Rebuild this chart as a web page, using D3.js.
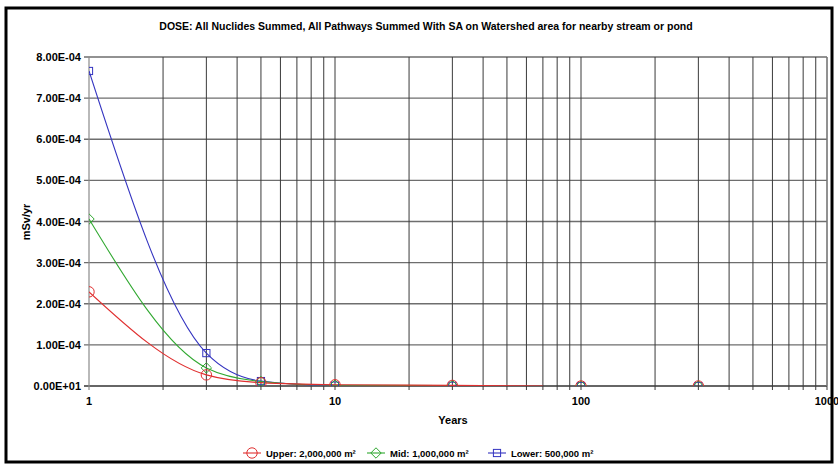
<!DOCTYPE html>
<html>
<head>
<meta charset="utf-8">
<script src="https://cdn.jsdelivr.net/npm/d3@7"></script>
<style>
  body { margin: 0; background: #fff; }
  svg { display: block; font-family: "Liberation Sans", Arial, sans-serif; }
</style>
</head>
<body>
<svg width="838" height="467"></svg>
<script>
// data
const years = [1, 3, 5, 10, 30, 100, 300];
const upper = [2.29e-4, 2.7e-5, 8e-6, 3e-6, 1.5e-6, 0, 0];
const mid = [4.06e-4, 4.4e-5, 1.1e-5, 2e-6, 1e-6, 0, 0];
const lower = [7.66e-4, 8.0e-5, 1.2e-5, 1e-6, 5e-7, 0, 0];
const lineEnd = [70, 30, 30];   // last year each line is drawn to

const seriesNames = ["Upper:  2,000,000 m\u00B2", "Mid:  1,000,000 m\u00B2", "Lower:  500,000 m\u00B2"];
const seriesColors = ["#e03030", "#30a830", "#3434c0"];
const seriesMarks = ["circle", "diamond", "square"];
const yTicks = [0, 1e-4, 2e-4, 3e-4, 4e-4, 5e-4, 6e-4, 7e-4, 8e-4];
const xLabels = [1, 10, 100, 1000];

const title = "DOSE: All Nuclides Summed, All Pathways Summed With SA on Watershed area for nearby stream or pond";

let svg = d3.select("svg");
let pLeft = 89, pRight = 827, pTop = 57, pBottom = 386;

let x = d3.scaleLog().domain([1, 1000]).range([pLeft, pRight]);
let y = d3.scaleLinear().domain([0, 8e-4]).range([pBottom, pTop]);

// outer frame
svg.append("rect")
    .attr("x", 6).attr("y", 8)
    .attr("width", 826).attr("height", 454)
    .attr("fill", "#fff")
    .attr("stroke", "#000")
    .attr("stroke-width", 3);

svg.append("text")
    .attr("x", 426).attr("y", 30)
    .attr("text-anchor", "middle")
    .attr("font-size", 10.5).attr("font-weight", "bold")
    .text(title);

svg.append("defs").append("clipPath").attr("id", "plot")
    .append("rect")
    .attr("x", pLeft).attr("y", pTop)
    .attr("width", pRight - pLeft).attr("height", pBottom - pTop);

// horizontal grid
svg.append("g").selectAll("line")
    .data(yTicks)
    .enter().append("line")
    .attr("x1", pLeft - 5).attr("x2", pRight)
    .attr("y1", d => y(d)).attr("y2", d => y(d))
    .attr("stroke", d => d === 0 ? "#333" : "#6e6e6e")
    .attr("stroke-width", 1.3);

// vertical grid (every log step)
let xGrid = x.ticks().filter(d => d > 1);
svg.append("g").selectAll("line")
    .data(xGrid)
    .enter().append("line")
    .attr("x1", d => x(d)).attr("x2", d => x(d))
    .attr("y1", pTop).attr("y2", pBottom + 4)
    .attr("stroke", "#3a3a3a")
    .attr("stroke-width", 1);

// left and right plot edges
svg.append("line")
    .attr("x1", pLeft).attr("x2", pLeft)
    .attr("y1", pTop).attr("y2", pBottom + 4)
    .attr("stroke", "#8a8a8a").attr("stroke-width", 1.2);
svg.append("line")
    .attr("x1", pRight).attr("x2", pRight)
    .attr("y1", pTop).attr("y2", pBottom)
    .attr("stroke", "#8a8a8a").attr("stroke-width", 1.2);

svg.append("g").selectAll("text")
    .data(yTicks)
    .enter().append("text")
    .attr("x", 81).attr("y", d => y(d) + 4)
    .attr("text-anchor", "end")
    .attr("font-size", 11).attr("font-weight", "bold")
    .text(d => d === 0 ? "0.00E+01" : d.toExponential(2).toUpperCase().replace("E-4", "E-04"));

svg.append("g").selectAll("text")
    .data(xLabels)
    .enter().append("text")
    .attr("x", d => x(d)).attr("y", 405)
    .attr("text-anchor", "middle")
    .attr("font-size", 11).attr("font-weight", "bold")
    .text(d => d);

svg.append("text")
    .attr("x", 453).attr("y", 424)
    .attr("text-anchor", "middle")
    .attr("font-size", 11).attr("font-weight", "bold")
    .text("Years");

svg.append("text")
    .attr("transform", "translate(30,222) rotate(-90)")
    .attr("text-anchor", "middle")
    .attr("font-size", 11).attr("font-weight", "bold")
    .text("mSv/yr");

function marker(g, kind, color, size) {
    if (kind === "circle") {
        g.append("circle").attr("r", size).attr("fill", "none").attr("stroke", color);
    } else if (kind === "diamond") {
        g.append("path").attr("d", `M0,${-size}L${size},0L0,${size}L${-size},0Z`)
            .attr("fill", "none").attr("stroke", color);
    } else {
        g.append("rect").attr("x", -size * 0.8).attr("y", -size * 0.8)
            .attr("width", size * 1.6).attr("height", size * 1.6)
            .attr("fill", "none").attr("stroke", color);
    }
}

let allSeries = [upper, mid, lower];
let plot = svg.append("g").attr("clip-path", "url(#plot)");

let line = d3.line()
    .x(d => x(d[0]))
    .y(d => y(d[1]))
    .curve(d3.curveMonotoneX);

// draw lower first so red ends up on top
[2, 1, 0].forEach(i => {
    let vals = allSeries[i];
    let pts = years.map((yr, k) => [yr, vals[k]]).filter(p => p[0] <= lineEnd[i] && p[1] > 0);
    if (lineEnd[i] > pts[pts.length - 1][0]) pts.push([lineEnd[i], 0]);
    plot.append("path")
        .datum(pts)
        .attr("d", line)
        .attr("fill", "none")
        .attr("stroke", seriesColors[i])
        .attr("stroke-width", i === 0 ? 1.2 : 1.1);
});

[2, 1, 0].forEach(i => {
    allSeries[i].forEach((v, k) => {
        let g = plot.append("g")
            .attr("transform", "translate(" + x(years[k]) + "," + y(v) + ")");
        marker(g, seriesMarks[i], seriesColors[i], i === 2 ? 4.5 : 5.2);
    });
});

// legend
let legendX = [252, 376, 497];
seriesNames.forEach((name, i) => {
    let g = svg.append("g").attr("transform", "translate(" + legendX[i] + ",453)");
    g.append("line").attr("x1", -9).attr("x2", 9)
        .attr("stroke", seriesColors[i]).attr("stroke-width", 1.1);
    marker(g, seriesMarks[i], seriesColors[i], i === 2 ? 4.5 : 5.2);
    g.append("text").attr("x", 14).attr("y", 3.5)
        .attr("font-size", 9.5).attr("font-weight", "bold")
        .text(name);
});
</script>
</body>
</html>
